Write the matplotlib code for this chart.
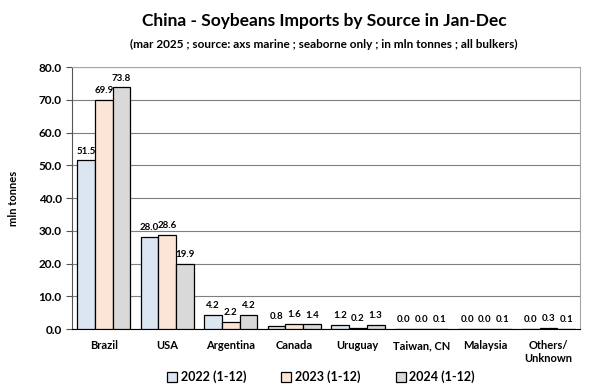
import numpy as np
import matplotlib.pyplot as plt

paises = ["Brazil", "USA", "Argentina", "Canada", "Uruguay", "Taiwan, CN", "Malaysia", "Others/\nUnknown"]
v2022 = [51.5, 28.0, 4.2, 0.8, 1.2, 0.0, 0.0, 0.0]
v2023 = [69.9, 28.6, 2.2, 1.6, 0.2, 0.0, 0.0, 0.3]
v2024 = [73.8, 19.9, 4.2, 1.4, 1.3, 0.1, 0.1, 0.1]
series = ["2022 (1-12)", "2023 (1-12)", "2024 (1-12)"]
colores = ["#dce6f2", "#fbe5d6", "#d9d9d9"]

plt.rcParams['font.family'] = ['Lato', 'DejaVu Sans']
plt.rcParams['font.weight'] = 'bold'

fig = plt.figure(figsize=(6, 3.88), dpi=100)
ax = fig.add_axes([0.12, 0.152, 0.847, 0.675])

x = np.arange(len(paises))
w = 0.28
for i, (vals, lab, col) in enumerate(zip([v2022, v2023, v2024], series, colores)):
    barras = ax.bar(x + (i - 1) * w, vals, w, color=col, edgecolor='black', linewidth=0.9, label=lab, zorder=3)
    for b, v in zip(barras, vals):
        ax.text(b.get_x() + b.get_width() / 2, v + 1.5, f"{v:.1f}", ha='center', va='bottom',
                fontsize=7, fontweight='bold', zorder=4)

ax.set_xlim(-0.5, len(paises) - 0.5)
ax.set_ylim(0, 80)
ax.set_yticks(np.arange(0, 81, 10))
ax.set_yticklabels([f"{t:.1f}" for t in np.arange(0, 81, 10)], fontsize=8.5, fontweight='bold')
ax.set_xticks(x)
ax.set_xticklabels(paises, fontsize=8, fontweight='bold')
ax.tick_params(axis='x', length=0, pad=8)
ax.tick_params(axis='y', length=4, direction='out', color='#555555')
ax.grid(axis='y', color='#7f7f7f', linewidth=0.8, zorder=0)
for s in ['top', 'right']:
    ax.spines[s].set_color('#a6a6a6')
ax.spines['left'].set_color('#555555')
ax.spines['bottom'].set_color('black')

ax.set_ylabel('mln tonnes', fontsize=8, fontweight='bold', labelpad=14)

fig.text(0.54, 0.945, 'China - Soybeans Imports by Source in Jan-Dec', ha='center', va='center',
         fontsize=12.5, fontweight='bold')
fig.text(0.54, 0.885, '(mar 2025 ; source: axs marine ; seaborne only ; in mln tonnes ; all bulkers)',
         ha='center', va='center', fontsize=8.5, fontweight='bold')

fig.legend(loc='center', bbox_to_anchor=(0.535, 0.028), ncol=3, frameon=False, fontsize=9,
           handlelength=0.8, handleheight=0.8, columnspacing=2.8, handletextpad=0.3)

fig.savefig('out.png', dpi=100, facecolor='white')
